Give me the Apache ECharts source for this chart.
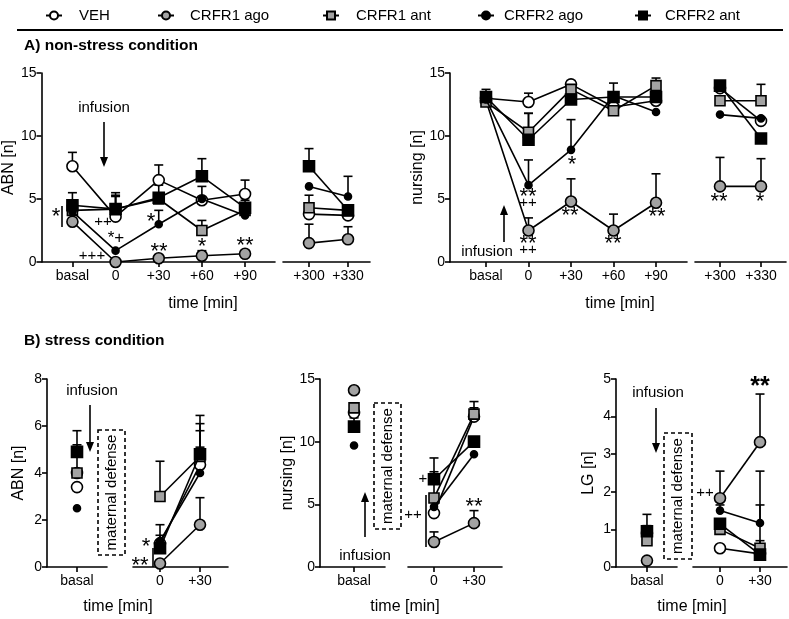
<!DOCTYPE html>
<html>
<head>
<meta charset="utf-8">
<script src="https://cdn.jsdelivr.net/npm/echarts@6/dist/echarts.min.js"></script>
<style>
html, body { margin: 0; padding: 0; background: #fff; }
#chart { width: 789px; height: 619px; }
</style>
</head>
<body>
<div id="chart"></div>
<script>
// time points
var aEarly = ['basal', '0', '+30', '+60', '+90'];
var aLate = ['+300', '+330'];
var bEarly = ['basal'];
var bLate = ['0', '+30'];

// A) non-stress, ABN  (basal, 0, +30, +60, +90, +300, +330)
var aAbnVEH = [7.6, 3.6, 6.5, 4.9, 5.4, 3.8, 3.7];
var aAbnR1ago = [3.2, 0, 0.3, 0.5, 0.65, 1.5, 1.8];
var aAbnR1ant = [4.1, 4.2, 5.0, 2.5, 4.1, 4.3, 4.1];
var aAbnR2ago = [4.0, 0.9, 3.0, 5.0, 3.7, 6.0, 5.2];
var aAbnR2ant = [4.5, 4.2, 5.1, 6.8, 4.3, 7.6, 4.1];
// upper ends of error bars
var aAbnVEHtop = [8.7, 5.5, 7.7, 6.0, 6.5, null, null];
var aAbnR1agoTop = [null, null, null, 0.9, 0.85, 3.0, 2.8];
var aAbnR1antTop = [null, 5.2, null, 3.3, null, 5.3, null];
var aAbnR2agoTop = [null, null, 4.1, null, null, null, 6.8];
var aAbnR2antTop = [5.5, 5.3, 6.1, 8.2, 4.9, 9.0, null];

// A) non-stress, nursing
var aNurVEH = [13.0, 12.7, 14.1, 12.3, 12.8, 13.8, 11.2];
var aNurR1ago = [12.8, 2.5, 4.8, 2.5, 4.7, 6.0, 6.0];
var aNurR1ant = [12.7, 10.3, 13.7, 12.0, 14.0, 12.8, 12.8];
var aNurR2ago = [12.9, 6.1, 8.9, 13.2, 11.9, 11.7, 11.4];
var aNurR2ant = [13.1, 9.7, 12.9, 13.1, 13.1, 14.0, 9.8];
var aNurVEHtop = [13.7, 13.4, 14.4, null, null, null, null];
var aNurR1agoTop = [null, 3.5, 6.6, 3.8, 7.0, 8.3, 8.2];
var aNurR1antTop = [null, 11.8, null, 14.2, 14.6, null, 14.1];
var aNurR2agoTop = [null, 8.1, 11.3, null, null, null, null];
var aNurR2antTop = [null, 11.8, null, null, null, null, null];

// B) stress, ABN  (basal, 0, +30)
var bAbnVEH = [3.4, 1.0, 4.35];
var bAbnR1ago = [4.0, 0.15, 1.8];
var bAbnR1ant = [4.0, 3.0, 4.7];
var bAbnR2ago = [2.5, 1.1, 4.0];
var bAbnR2ant = [4.9, 0.8, 4.8];
var bAbnVEHtop = [null, 1.35, 5.8];
var bAbnR1agoTop = [null, null, 2.95];
var bAbnR1antTop = [5.2, 4.5, 6.1];
var bAbnR2agoTop = [null, null, 5.1];
var bAbnR2antTop = [5.8, 1.8, 6.45];

// B) stress, nursing
var bNurVEH = [12.3, 4.3, 12.0];
var bNurR1ago = [14.1, 2.0, 3.5];
var bNurR1ant = [12.7, 5.5, 12.2];
var bNurR2ago = [9.7, 4.8, 9.0];
var bNurR2ant = [11.2, 7.0, 10.0];
var bNurVEHtop = [null, null, 12.7];
var bNurR1agoTop = [null, 2.8, 4.5];
var bNurR1antTop = [null, 7.6, 13.2];
var bNurR2agoTop = [null, null, null];
var bNurR2antTop = [11.9, 8.7, null];

// B) stress, LG
var bLgVEH = [0.9, 0.5, 0.35];
var bLgR1ago = [0.17, 1.83, 3.32];
var bLgR1ant = [0.7, 1.0, 0.5];
var bLgR2ago = [1.0, 1.5, 1.17];
var bLgR2ant = [0.95, 1.15, 0.33];
var bLgVEHtop = [null, null, null];
var bLgR1agoTop = [null, 2.55, 4.6];
var bLgR1antTop = [null, null, 2.55];
var bLgR2agoTop = [1.1, 1.65, 1.65];
var bLgR2antTop = [1.4, null, 0.7];

var FONT = '"Liberation Sans", Arial, sans-serif';
var GRAY = '#a3a3a3';

var groups = [
  { name: 'VEH', symbol: 'circle', size: 11, color: '#fff' },
  { name: 'CRFR1 ago', symbol: 'circle', size: 11, color: GRAY },
  { name: 'CRFR1 ant', symbol: 'rect', size: 10, color: GRAY },
  { name: 'CRFR2 ago', symbol: 'circle', size: 7, color: '#000' },
  { name: 'CRFR2 ant', symbol: 'rect', size: 11, color: '#000' }
];

// panels: one grid for the early part (with y axis), one for the late part
var panels = [
  { left: 41, width: 234, top: 73, height: 189, min: -0.717, max: 4.694, labels: aEarly, ymax: 15, yint: 5, yname: 'ABN [n]', gap: 21 },
  { left: 283, width: 87, top: 73, height: 189, min: -0.667, max: 1.564, labels: aLate, ymax: 15, late: true },
  { left: 450, width: 237, top: 73, height: 189, min: -0.847, max: 4.729, labels: aEarly, ymax: 15, yint: 5, yname: 'nursing [n]', gap: 22 },
  { left: 695, width: 91, top: 73, height: 189, min: -0.61, max: 1.61, labels: aLate, ymax: 15, late: true },
  { left: 47, width: 60, top: 379, height: 188, min: -1, max: 1, labels: bEarly, ymax: 8, yint: 2, yname: 'ABN [n]', gap: 20 },
  { left: 133, width: 95, top: 379, height: 188, min: -0.675, max: 1.7, labels: bLate, ymax: 8, late: true },
  { left: 320, width: 65, top: 379, height: 188, min: -1, max: 0.91, labels: bEarly, ymax: 15, yint: 5, yname: 'nursing [n]', gap: 21 },
  { left: 408, width: 94, top: 379, height: 188, min: -0.65, max: 1.7, labels: bLate, ymax: 15, late: true },
  { left: 616, width: 61, top: 379, height: 188, min: -1, max: 0.97, labels: bEarly, ymax: 5, yint: 1, yname: 'LG [n]', gap: 19 },
  { left: 693, width: 94, top: 379, height: 188, min: -0.675, max: 1.675, labels: bLate, ymax: 5, late: true }
];

var grid = [], xAxis = [], yAxis = [], series = [];
panels.forEach(function (p, i) {
  grid.push({ left: p.left, top: p.top, width: p.width, height: p.height });
  var idx = p.labels.map(function (d, k) { return k; });
  xAxis.push({
    gridIndex: i, type: 'value', min: p.min, max: p.max,
    axisLine: { onZero: false, lineStyle: { color: '#000', width: 1.6 } },
    axisTick: { customValues: idx, length: 5, lineStyle: { color: '#000', width: 1.6 } },
    axisLabel: {
      customValues: idx, margin: 7, color: '#000', fontSize: 14, fontFamily: FONT,
      formatter: function (v) { return p.labels[Math.round(v)]; }
    },
    splitLine: { show: false }
  });
  yAxis.push({
    gridIndex: i, type: 'value', min: 0, max: p.ymax, interval: p.yint || p.ymax,
    show: !p.late,
    name: p.yname, nameLocation: 'middle', nameGap: p.gap,
    nameTextStyle: { color: '#000', fontSize: 16, fontFamily: FONT },
    axisLine: { show: true, onZero: false, lineStyle: { color: '#000', width: 1.6 } },
    axisTick: { show: true, length: 5, lineStyle: { color: '#000', width: 1.6 } },
    axisLabel: { color: '#000', fontSize: 14, fontFamily: FONT, margin: 5 },
    splitLine: { show: false }
  });
});

function renderErr(params, api) {
  var x = api.value(0);
  var p0 = api.coord([x, api.value(1)]);
  var p1 = api.coord([x, api.value(2)]);
  var st = { stroke: '#000', lineWidth: 1.6 };
  return {
    type: 'group', children: [
      { type: 'line', shape: { x1: p0[0], y1: p0[1], x2: p1[0], y2: p1[1] }, style: st },
      { type: 'line', shape: { x1: p1[0] - 4.5, y1: p1[1], x2: p1[0] + 4.5, y2: p1[1] }, style: st }
    ]
  };
}

function addGroup(g, order, gi, vals, tops) {
  var pts = vals.map(function (v, k) { return [k, v]; });
  var errs = [];
  vals.forEach(function (v, k) {
    if (tops[k] != null) errs.push([k, v, tops[k]]);
  });
  series.push({
    type: 'custom', name: g.name + ' err', xAxisIndex: gi, yAxisIndex: gi,
    renderItem: renderErr, data: errs, encode: { x: 0, y: [1, 2] }, z: 2, silent: true
  });
  series.push({
    type: 'line', name: g.name, xAxisIndex: gi, yAxisIndex: gi, data: pts,
    symbol: g.symbol, symbolSize: g.size, showAllSymbol: true,
    lineStyle: { color: '#000', width: 1.6 },
    itemStyle: { color: g.color, borderColor: '#000', borderWidth: 1.6 },
    z: 3 + order, animation: false, silent: true
  });
}

var aAbn = [[aAbnVEH, aAbnVEHtop], [aAbnR1ago, aAbnR1agoTop], [aAbnR1ant, aAbnR1antTop], [aAbnR2ago, aAbnR2agoTop], [aAbnR2ant, aAbnR2antTop]];
var aNur = [[aNurVEH, aNurVEHtop], [aNurR1ago, aNurR1agoTop], [aNurR1ant, aNurR1antTop], [aNurR2ago, aNurR2agoTop], [aNurR2ant, aNurR2antTop]];
var bAbn = [[bAbnVEH, bAbnVEHtop], [bAbnR1ago, bAbnR1agoTop], [bAbnR1ant, bAbnR1antTop], [bAbnR2ago, bAbnR2agoTop], [bAbnR2ant, bAbnR2antTop]];
var bNur = [[bNurVEH, bNurVEHtop], [bNurR1ago, bNurR1agoTop], [bNurR1ant, bNurR1antTop], [bNurR2ago, bNurR2agoTop], [bNurR2ant, bNurR2antTop]];
var bLg = [[bLgVEH, bLgVEHtop], [bLgR1ago, bLgR1agoTop], [bLgR1ant, bLgR1antTop], [bLgR2ago, bLgR2agoTop], [bLgR2ant, bLgR2antTop]];

groups.forEach(function (g, k) {
  addGroup(g, k, 0, aAbn[k][0].slice(0, 5), aAbn[k][1].slice(0, 5));
  addGroup(g, k, 1, aAbn[k][0].slice(5), aAbn[k][1].slice(5));
  addGroup(g, k, 2, aNur[k][0].slice(0, 5), aNur[k][1].slice(0, 5));
  addGroup(g, k, 3, aNur[k][0].slice(5), aNur[k][1].slice(5));
  addGroup(g, k, 4, bAbn[k][0].slice(0, 1), bAbn[k][1].slice(0, 1));
  addGroup(g, k, 5, bAbn[k][0].slice(1), bAbn[k][1].slice(1));
  addGroup(g, k, 6, bNur[k][0].slice(0, 1), bNur[k][1].slice(0, 1));
  addGroup(g, k, 7, bNur[k][0].slice(1), bNur[k][1].slice(1));
  addGroup(g, k, 8, bLg[k][0].slice(0, 1), bLg[k][1].slice(0, 1));
  addGroup(g, k, 9, bLg[k][0].slice(1), bLg[k][1].slice(1));
});

// legend: one component per item so the spacing follows the figure
var legendLeft = [40, 152, 317, 472, 629];
var legendPad = [12, 11, 12, 5, 9];
var legend = groups.map(function (g, k) {
  return {
    data: [g.name], left: legendLeft[k], top: 3, itemWidth: 16, itemHeight: 10,
    selectedMode: false,
    textStyle: { color: '#000', fontSize: 15, fontFamily: FONT, padding: [0, 0, 0, legendPad[k]] }
  };
});

// annotations
function txt(x, y, s, size, bold) {
  return {
    type: 'text', x: x, y: y, silent: true,
    style: { text: s, fill: '#000', fontSize: size, fontFamily: FONT, fontWeight: bold ? 'bold' : 'normal', align: 'center', verticalAlign: 'middle' }
  };
}
function star(x, y, s, size, bold) {
  size = size || 22;
  return txt(x, y + size * 0.25, s, size, bold);
}
function vline(x, y1, y2) {
  return { type: 'line', silent: true, shape: { x1: x, y1: y1, x2: x, y2: y2 }, style: { stroke: '#000', lineWidth: 1.6 } };
}
function arrow(x, from, tip) {
  var d = tip > from ? 1 : -1;
  return {
    type: 'group', silent: true, children: [
      { type: 'line', shape: { x1: x, y1: from, x2: x, y2: tip - d * 8 }, style: { stroke: '#000', lineWidth: 1.6 } },
      { type: 'polygon', shape: { points: [[x - 4, tip - d * 10], [x + 4, tip - d * 10], [x, tip]] }, style: { fill: '#000' } }
    ]
  };
}
function dashBox(x1, y1, x2, y2) {
  return {
    type: 'group', silent: true, children: [
      { type: 'rect', shape: { x: x1, y: y1, width: x2 - x1, height: y2 - y1 }, style: { fill: 'none', stroke: '#000', lineWidth: 1.6, lineDash: [4, 3] } },
      { type: 'text', x: (x1 + x2) / 2, y: (y1 + y2) / 2, rotation: Math.PI / 2, style: { text: 'maternal defense', fill: '#000', fontSize: 15, fontFamily: FONT, align: 'center', verticalAlign: 'middle' } }
    ]
  };
}

var graphic = [
  { type: 'line', silent: true, shape: { x1: 17, y1: 30, x2: 783, y2: 30 }, style: { stroke: '#000', lineWidth: 2 } },
  { type: 'text', x: 24, y: 46, silent: true, style: { text: 'A) non-stress condition', fill: '#000', fontSize: 15.5, fontWeight: 'bold', fontFamily: FONT, verticalAlign: 'middle' } },
  { type: 'text', x: 24, y: 341, silent: true, style: { text: 'B) stress condition', fill: '#000', fontSize: 15.5, fontWeight: 'bold', fontFamily: FONT, verticalAlign: 'middle' } },
  txt(203, 304, 'time [min]', 16), txt(620, 304, 'time [min]', 16),
  txt(118, 607, 'time [min]', 16), txt(405, 607, 'time [min]', 16), txt(692, 607, 'time [min]', 16),

  // A left
  txt(104, 108, 'infusion', 15), arrow(104, 122, 167),
  star(56, 211, '*'), vline(62, 206, 227),
  txt(103, 222, '++', 15), txt(116, 238, '*+', 17), txt(92, 256, '+++', 15),
  star(151, 216, '*'), star(159, 246, '**'), star(202, 241, '*'), star(245, 240, '**'),

  // A right
  star(572, 159, '*'), star(528, 191, '**'), txt(528, 203, '++', 15),
  star(570, 210, '**'), star(528, 238, '**'), txt(528, 250, '++', 15),
  txt(487, 252, 'infusion', 15), arrow(504, 242, 205),
  star(613, 238, '**'), star(657, 211, '**'), star(719, 196, '**'), star(760, 196, '*'),

  // B left
  txt(92, 391, 'infusion', 15), arrow(90, 405, 452), dashBox(98, 430, 125, 555),
  star(146, 541, '*'), star(140, 560, '**'), vline(153, 548, 567),

  // B middle
  dashBox(374, 403, 401, 529), arrow(365, 537, 492), txt(365, 556, 'infusion', 15),
  txt(423, 479, '+', 15), txt(413, 515, '++', 15), vline(426, 495, 547), star(474, 501, '**'),

  // B right
  txt(658, 393, 'infusion', 15), arrow(656, 408, 453), dashBox(664, 433, 692, 559),
  txt(705, 493, '++', 15), star(760, 381, '**', 25, true)
];

var chart = echarts.init(document.getElementById('chart'));
chart.setOption({
  animation: false,
  backgroundColor: '#fff',
  legend: legend,
  grid: grid,
  xAxis: xAxis,
  yAxis: yAxis,
  series: series,
  graphic: graphic
});
</script>
</body>
</html>
